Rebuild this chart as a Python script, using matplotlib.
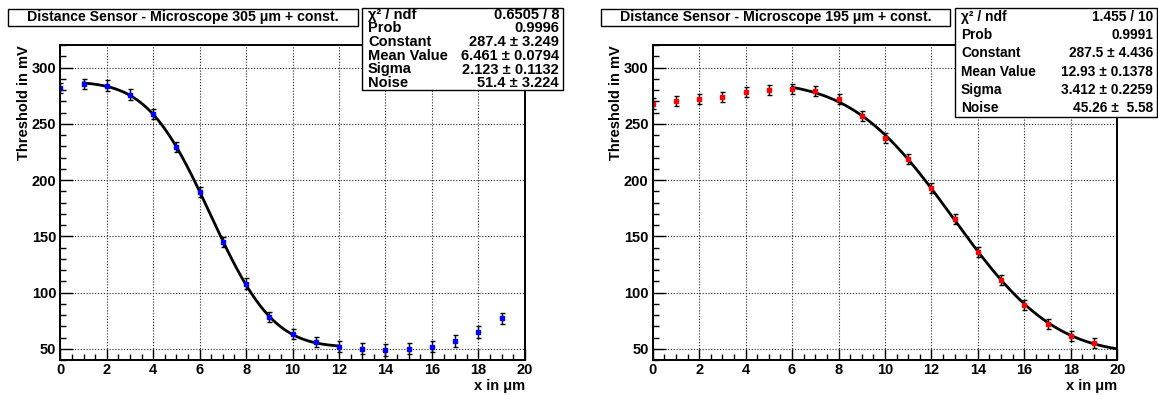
"""
Distance sensor scans, two microscope settings, erfc step fit + const.
"""

import math

import matplotlib
matplotlib.use("Agg")
import matplotlib.pyplot as plt
import numpy as np
from matplotlib.patches import Rectangle
from matplotlib.ticker import MultipleLocator

plt.rcParams['font.family'] = ['Liberation Sans', 'DejaVu Sans']
plt.rcParams['font.weight'] = 'bold'

# measured points (x in um, threshold in mV)
x_pos = [0, 1, 2, 3, 4, 5, 6, 7, 8, 9, 10, 11, 12, 13, 14, 15, 16, 17, 18, 19]

thr_305 = [282, 285, 284, 276, 259, 229, 189, 145, 108, 78, 63, 56, 52, 50, 49, 50, 52, 57, 65, 77]
err_305 = [4.5, 4.5, 4.5, 4.5, 4.5, 4.5, 4.5, 4.5, 4.5, 4.5, 4.5, 4.5, 5, 5, 5, 5, 5, 5, 5, 5]

thr_195 = [268, 270, 272, 274, 278, 280, 281, 279, 272, 257, 237, 219, 193, 165, 136, 111, 89, 72, 61, 55]
err_195 = [4.5, 4.5, 4.5, 4.5, 4.5, 4.5, 4.5, 4.5, 4.5, 4.5, 4.5, 4.5, 4.5, 4.5, 4.5, 4.5, 4.5, 4.5, 4.5, 4.5]

# fit results: constant, mean, sigma, noise ; fit range
fit_305 = [287.4, 6.461, 2.123, 51.4]
range_305 = [1, 12]
fit_195 = [287.5, 12.93, 3.412, 45.26]
range_195 = [6, 20]

stat_labels = ['\u03c7\u00b2 / ndf', 'Prob', 'Constant', 'Mean Value', 'Sigma', 'Noise']
stats_305 = ['0.6505 / 8', '0.9996', '287.4 \u00b1 3.249', '6.461 \u00b1 0.0794',
             '2.123 \u00b1 0.1132', '51.4 \u00b1 3.224']
stats_195 = ['1.455 / 10', '0.9991', '287.5 \u00b1 4.436', '12.93 \u00b1 0.1378',
             '3.412 \u00b1 0.2259', '45.26 \u00b1  5.58']

W, H = 1158, 395
erf = np.vectorize(math.erf)


def step_fit(x, p):
    const, mean, sigma, noise = p
    return (const - noise) * 0.5 * (1 - erf((x - mean) / (math.sqrt(2) * sigma))) + noise


def box(fig, x0, y0, x1, y1):
    r = Rectangle((x0 / W, 1 - y1 / H), (x1 - x0) / W, (y1 - y0) / H,
                  transform=fig.transFigure, facecolor='white', edgecolor='black', lw=1.0)
    fig.add_artist(r)


def draw_panel(fig, left_px, y, err, color, fit, frange):
    ax = fig.add_axes([left_px / W, 35 / H, 464.5 / W, 315 / H])
    ax.set_axisbelow(True)
    ax.grid(True, which='major', color='#222222', lw=0.8, linestyle=(0, (1, 1.6)))

    ax.errorbar(x_pos, y, yerr=err, fmt='s', color='black', ecolor='black',
                mfc=color, mec=color, ms=3, elinewidth=1, capsize=1.8, capthick=1)

    xf = np.linspace(frange[0], frange[1], 300)
    ax.plot(xf, step_fit(xf, fit), color='black', lw=2)

    ax.set_xlim(0, 20)
    ax.set_ylim(40, 320)
    ax.xaxis.set_major_locator(MultipleLocator(2))
    ax.xaxis.set_minor_locator(MultipleLocator(0.5))
    ax.yaxis.set_major_locator(MultipleLocator(50))
    ax.yaxis.set_minor_locator(MultipleLocator(10))
    ax.tick_params(which='both', direction='in', top=False, right=False,
                   labelsize=10.5, width=1)
    ax.tick_params(axis='x', which='major', length=8, pad=2.5)
    ax.tick_params(axis='x', which='minor', length=4)
    ax.tick_params(axis='y', which='major', length=9, pad=3)
    ax.tick_params(axis='y', which='minor', length=4.5)
    for s in ax.spines.values():
        s.set_linewidth(1.4)

    ax.set_xlabel('x in \u03bcm', fontsize=10.5, fontweight='bold')
    ax.xaxis.set_label_coords(1.0, -0.083)
    ax.xaxis.label.set_horizontalalignment('right')
    ax.xaxis.label.set_verticalalignment('center')
    ax.set_ylabel('Threshold in mV', fontsize=10.5, fontweight='bold')
    ax.yaxis.set_label_coords(-0.078, 1.0)
    ax.yaxis.label.set_verticalalignment('center')
    ax.yaxis.label.set_horizontalalignment('right')
    return ax


def draw_header(fig, title, tx0, tx1, sx0, sx1, sy1, values, fsize):
    box(fig, tx0, 9, tx1, 26)
    fig.text((tx0 + tx1) / 2 / W, 1 - 17.5 / H, title, ha='center', va='center',
             fontsize=10.2, fontweight='bold')
    box(fig, sx0, 8, sx1, sy1)
    row = (sy1 - 8) / 6
    for i, (lab, val) in enumerate(zip(stat_labels, values)):
        yc = 1 - (8 + row * (i + 0.5)) / H
        fig.text((sx0 + 6) / W, yc, lab, ha='left', va='center', fontsize=fsize, fontweight='bold')
        fig.text((sx1 - 4) / W, yc, val, ha='right', va='center', fontsize=fsize, fontweight='bold')


fig = plt.figure(figsize=(W / 100, H / 100), dpi=100)

draw_panel(fig, 60.3, thr_305, err_305, '#0000ff', fit_305, range_305)
draw_panel(fig, 652.7, thr_195, err_195, '#ff0000', fit_195, range_195)

draw_header(fig, 'Distance Sensor - Microscope 305 \u03bcm + const.', 8, 358, 362, 563, 90, stats_305, 10.5)
draw_header(fig, 'Distance Sensor - Microscope 195 \u03bcm + const.', 601, 950, 955, 1157, 117, stats_195, 9.9)

fig.savefig('out.png', dpi=100)
